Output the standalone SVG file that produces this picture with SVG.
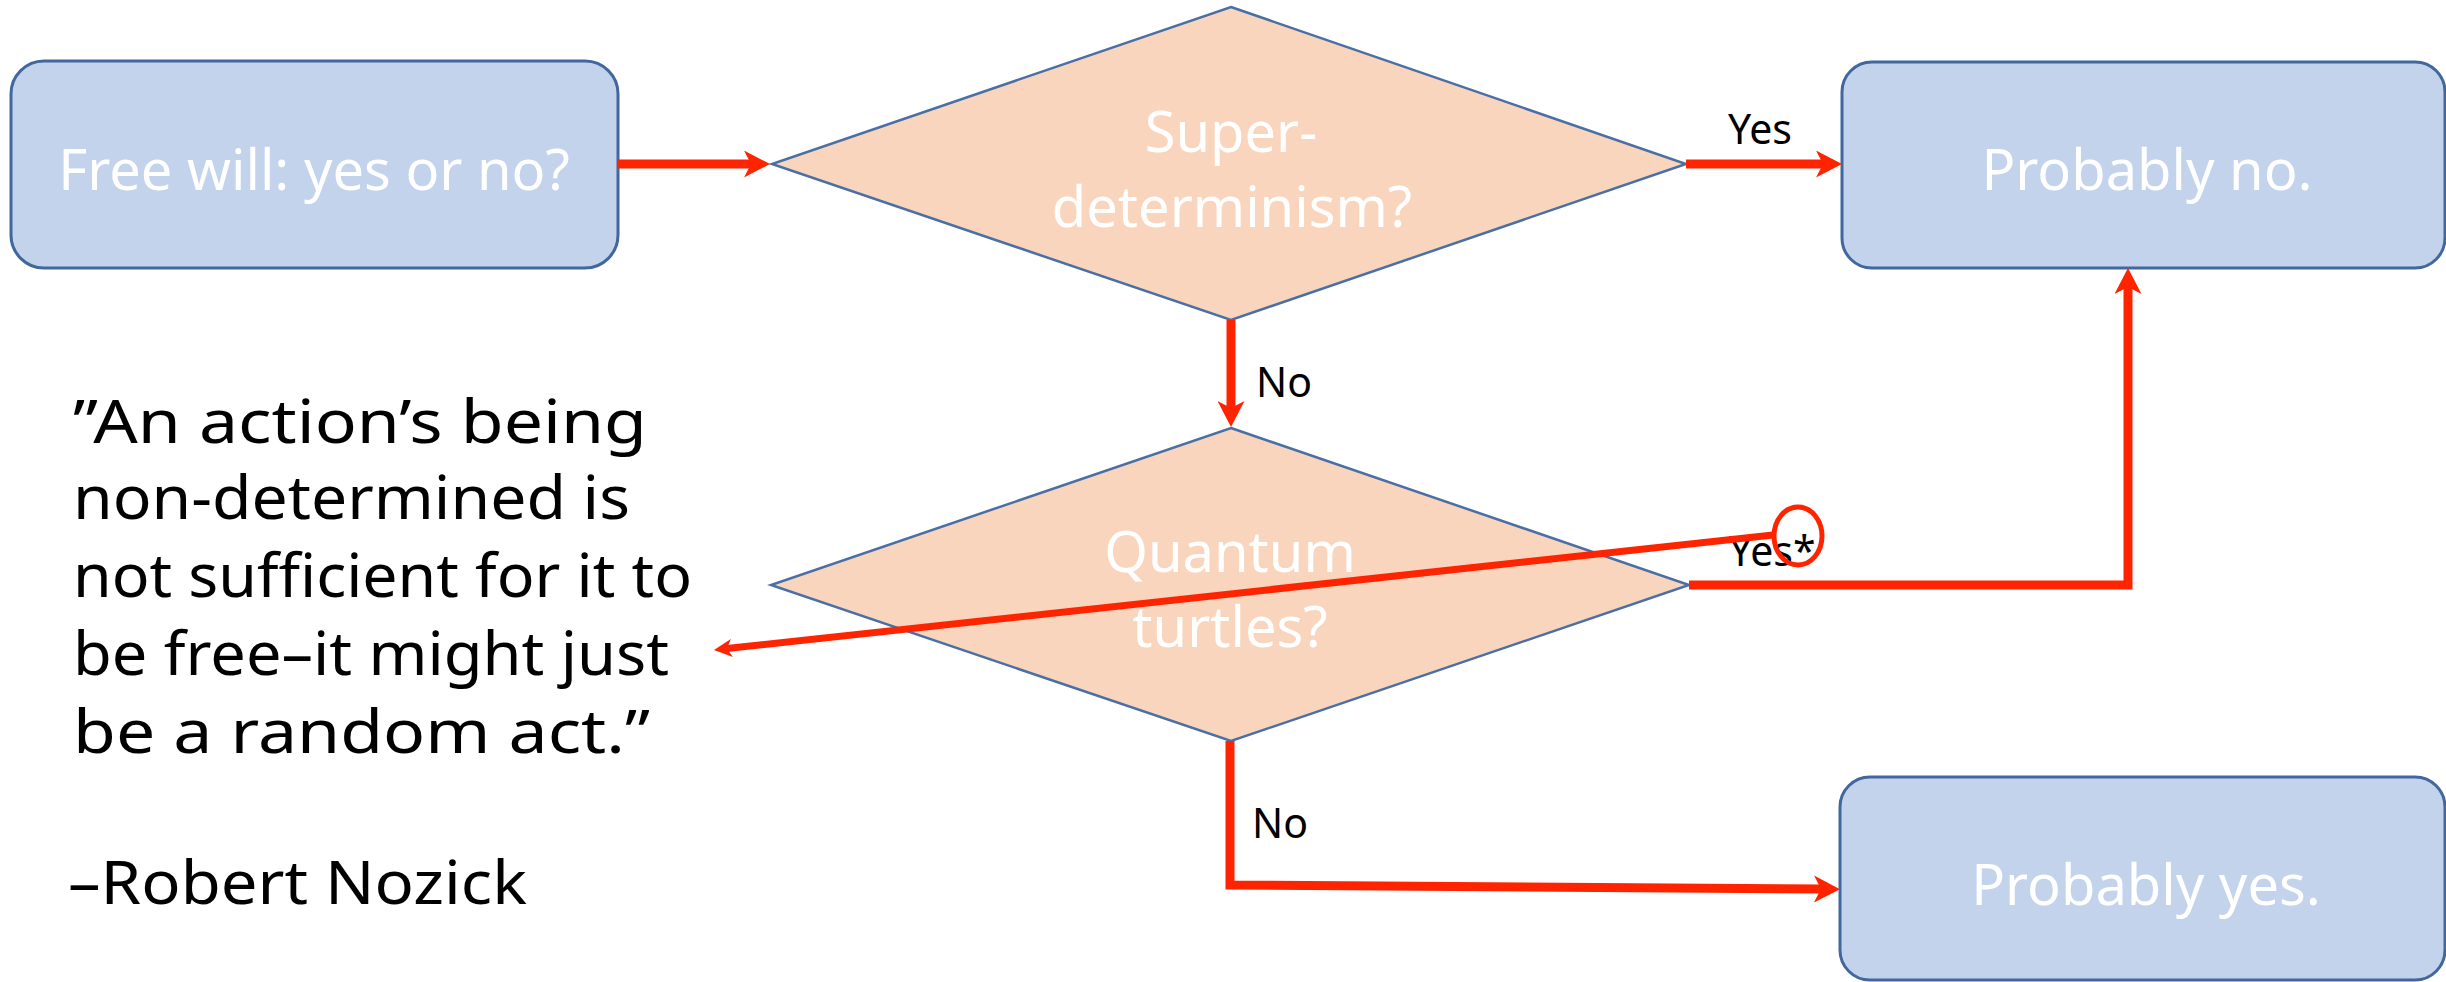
<svg xmlns="http://www.w3.org/2000/svg" width="2446" height="982" viewBox="0 0 2446 982">
<style>
.box{fill:#C3D3EC;stroke:#41679E;stroke-width:3}
.dia{fill:#F9D5BD;stroke:#4A6FA5;stroke-width:2.5}
.wt{font-family:"Noto Sans","Open Sans",sans-serif;font-size:56px;fill:#FFFFFF;text-anchor:middle}
.lbl{font-family:"Noto Sans","Open Sans",sans-serif;font-size:41px;fill:#000000}
.q{font-family:"Noto Sans","Open Sans",sans-serif;font-size:60px;fill:#000000}
.con{fill:none;stroke:#FF2400;stroke-width:9;stroke-linejoin:miter}
</style>
<defs>
<marker id="ah" viewBox="0 0 26 27" refX="7" refY="13.5" markerWidth="26" markerHeight="27" markerUnits="userSpaceOnUse" orient="auto">
<path d="M26,13.5 L0,0 L7,13.5 L0,27 Z" fill="#FF2400"/>
</marker>
<marker id="ahs" viewBox="0 0 18 18" refX="5" refY="9" markerWidth="18" markerHeight="18" markerUnits="userSpaceOnUse" orient="auto">
<path d="M18,9 L0,0 L5,9 L0,18 Z" fill="#FF2400"/>
</marker>
</defs>
<rect width="2446" height="982" fill="#FFFFFF"/>
<g id="node-start">
<rect class="box" x="11" y="61" width="607" height="207" rx="33" ry="33"/>
<text class="wt" x="314" y="190">Free will: yes or no?</text>
</g>
<g id="node-superdeterminism">
<polygon class="dia" points="1231,7 1686,164 1231,320 772,164"/>
<text class="wt" x="1231" y="152">Super-</text>
<text class="wt" x="1232" y="227">determinism?</text>
</g>
<g id="node-probably-no">
<rect class="box" x="1842" y="62" width="603" height="206" rx="30" ry="30"/>
<text class="wt" x="2147" y="190">Probably no.</text>
</g>
<g id="node-quantum">
<polygon class="dia" points="1231,428 1689,585 1231,741 771,585"/>
<text class="wt" x="1230" y="572">Quantum</text>
<text class="wt" x="1230" y="647">turtles?</text>
</g>
<g id="node-probably-yes">
<rect class="box" x="1840" y="777" width="605" height="203" rx="30" ry="30"/>
<text class="wt" x="2146" y="905">Probably yes.</text>
</g>
<g id="quote">
<text class="q" x="73" y="443" textLength="574" lengthAdjust="spacingAndGlyphs">”An action’s being</text>
<text class="q" x="73" y="519" textLength="557" lengthAdjust="spacingAndGlyphs">non-determined is</text>
<text class="q" x="73" y="597" textLength="619" lengthAdjust="spacingAndGlyphs">not sufficient for it to</text>
<text class="q" x="73" y="675" textLength="596" lengthAdjust="spacingAndGlyphs">be free–it might just</text>
<text class="q" x="73" y="753" textLength="577" lengthAdjust="spacingAndGlyphs">be a random act.”</text>
<text class="q" x="68" y="904" textLength="459" lengthAdjust="spacingAndGlyphs">–Robert Nozick</text>
</g>
<g id="connectors">
<path class="con" d="M618,164 H751" marker-end="url(#ah)"/>
<path class="con" d="M1686,164 H1823" marker-end="url(#ah)"/>
<path class="con" d="M1231,320 V408" marker-end="url(#ah)"/>
<path class="con" d="M1689,585 H2128 V287" marker-end="url(#ah)"/>
<path class="con" d="M1230,741 V885 L1821,889" marker-end="url(#ah)"/>
<text class="lbl" x="1728" y="144">Yes</text>
<text class="lbl" x="1256" y="397">No</text>
<text class="lbl" x="1252" y="838">No</text>
<text class="lbl" x="1729" y="566">Yes*</text>
<path class="con" style="stroke-width:7" d="M1773,535 L726.9,648.6" marker-end="url(#ahs)"/>
<ellipse cx="1798" cy="536" rx="24" ry="29" fill="none" stroke="#FF2400" stroke-width="5"/>
</g>
</svg>
